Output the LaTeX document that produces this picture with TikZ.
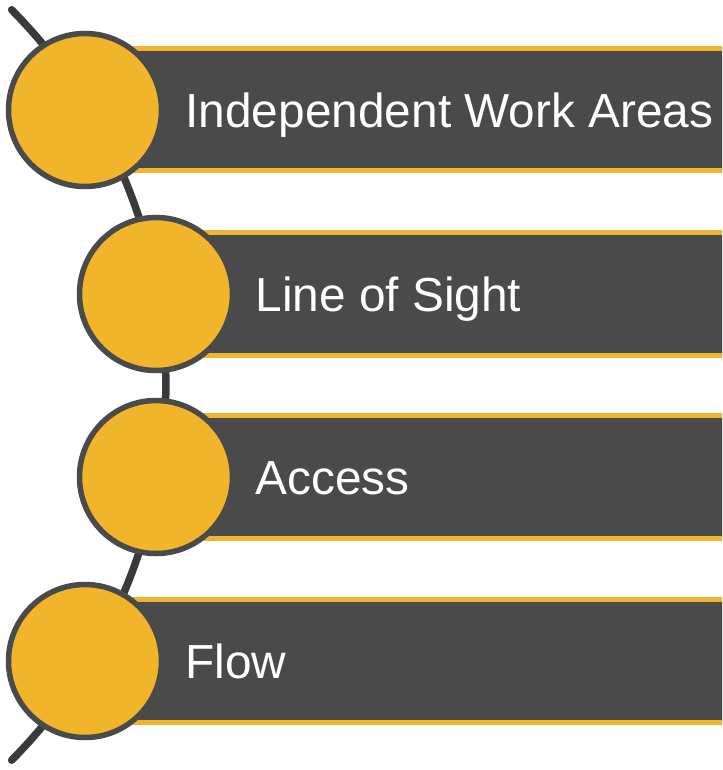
\documentclass[tikz,border=0pt]{standalone}
\usepackage{fontspec}
\setmainfont{Liberation Sans}
\usetikzlibrary{calc}
\usepackage{xcolor}
\definecolor{gold}{HTML}{F0B52B}
\definecolor{slate}{HTML}{4A4A4A}
\definecolor{spine}{HTML}{3A3A3A}

\begin{document}
\begin{tikzpicture}[x=1pt, y=-1pt,
		dot/.style={circle, draw=slate, fill=gold, line width=5.5pt, minimum size=153pt, inner sep=0pt},
		bar/.style={draw=gold, fill=slate, line width=5pt},
		itemtext/.style={anchor=base west, text=white, font=\fontsize{47.8}{50}\selectfont}]
				\useasboundingbox (0,0) rectangle (722,770);
				\clip (0,0) rectangle (722,770);
				\coordinate (hub) at (-367.6,385);
				\coordinate (top) at ($(hub)+(-44.7:533.5)$);
				\draw[spine, line width=7.5pt, line cap=round] (top) arc[start angle=-44.7, end angle=44.7, radius=533.5];
				\draw[bar] (85,48.5) rectangle (740,170.5);
				\draw[bar] (156,232.5) rectangle (740,355.5);
				\draw[bar] (156,415.5) rectangle (740,538.5);
				\draw[bar] (85,599.5) rectangle (740,722.5);
				\node[dot] (c1) at (85,110) {};
				\node[dot] (c2) at (156,294) {};
				\node[dot] (c3) at (156,477) {};
				\node[dot] (c4) at (85,661) {};
				\node[itemtext] (t1) at ($(c1)+(97,17.5)$) {Independent Work Areas};
				\node[itemtext] (t2) at ($(c2)+(96,17.5)$) {Line of Sight};
				\node[itemtext] (t3) at ($(c3)+(96,17.5)$) {Access};
				\node[itemtext] (t4) at ($(c4)+(97,17.5)$) {Flow};
			\end{tikzpicture}
\end{document}
